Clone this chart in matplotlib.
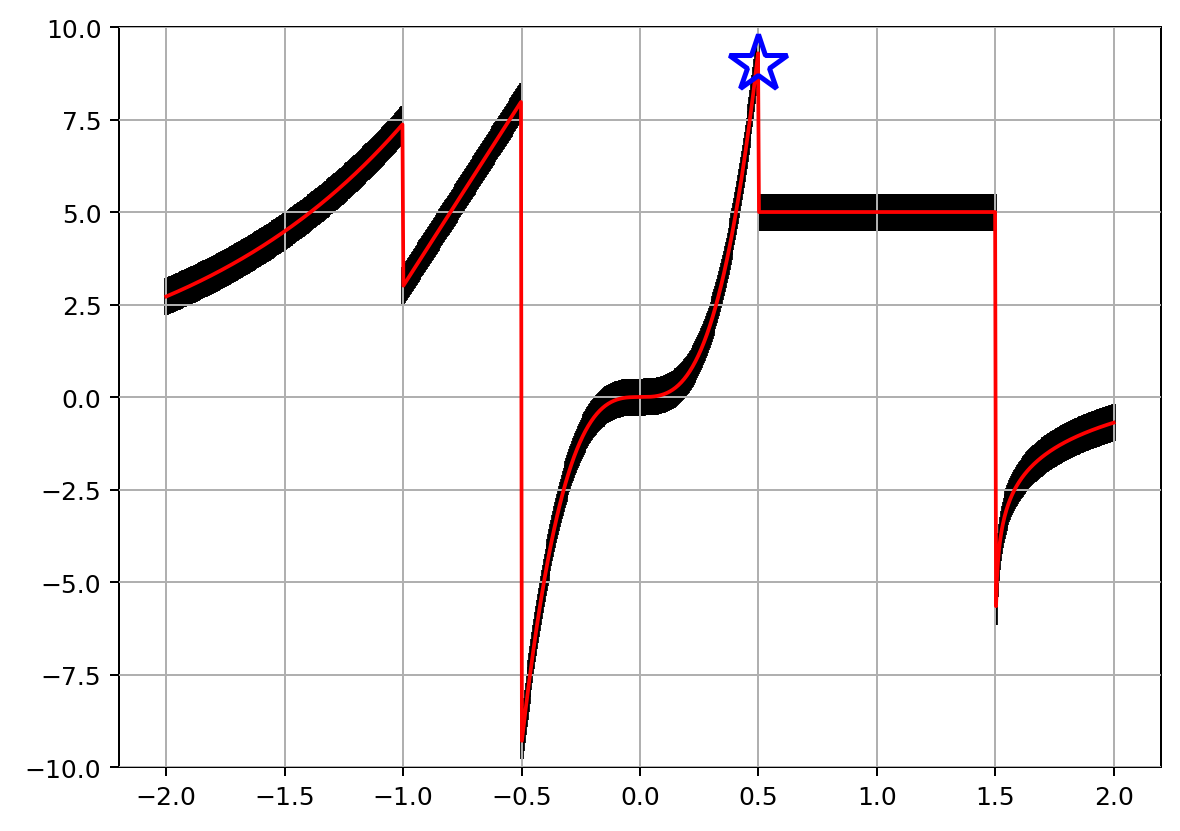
import numpy as np
import matplotlib
matplotlib.use("Agg")
import matplotlib.pyplot as plt

# Sample grid and piecewise definition
x_range = [-2.0, 2.0]
n_points = 1000
breaks = [-1.0, -0.5, 0.5, 1.5]
y_error = 0.5
star_point = [0.5, 9.0]
ylim = [-10, 10]

x = np.linspace(x_range[0], x_range[1], n_points)


def f(t):
    if t < breaks[0]:
        return np.exp(t + 3)
    elif t < breaks[1]:
        return 10 * t + 13
    elif t < breaks[2]:
        return 75 * t ** 3
    elif t < breaks[3]:
        return 5.0
    else:
        return np.log(t - 1.5)


y = np.array([f(t) for t in x])

fig = plt.figure(figsize=(1180 / 180, 832 / 180), dpi=180)
ax = fig.add_axes([0.1008, 0.0769, 0.8831, 0.8894])

ax.errorbar(x, y, yerr=y_error, fmt='none', ecolor='black', elinewidth=1.5, zorder=2)
ax.plot(x, y, color='red', linewidth=1.5, zorder=3)
ax.plot([star_point[0]], [star_point[1]], marker='*', markersize=24,
        markerfacecolor='none', markeredgecolor='blue', markeredgewidth=2,
        linestyle='none', zorder=4)

ax.set_ylim(ylim)
ax.set_xlim(-2.2, 2.2)
ax.grid(True)
ax.set_axisbelow(False)

fig.savefig("out.png", dpi=180)
